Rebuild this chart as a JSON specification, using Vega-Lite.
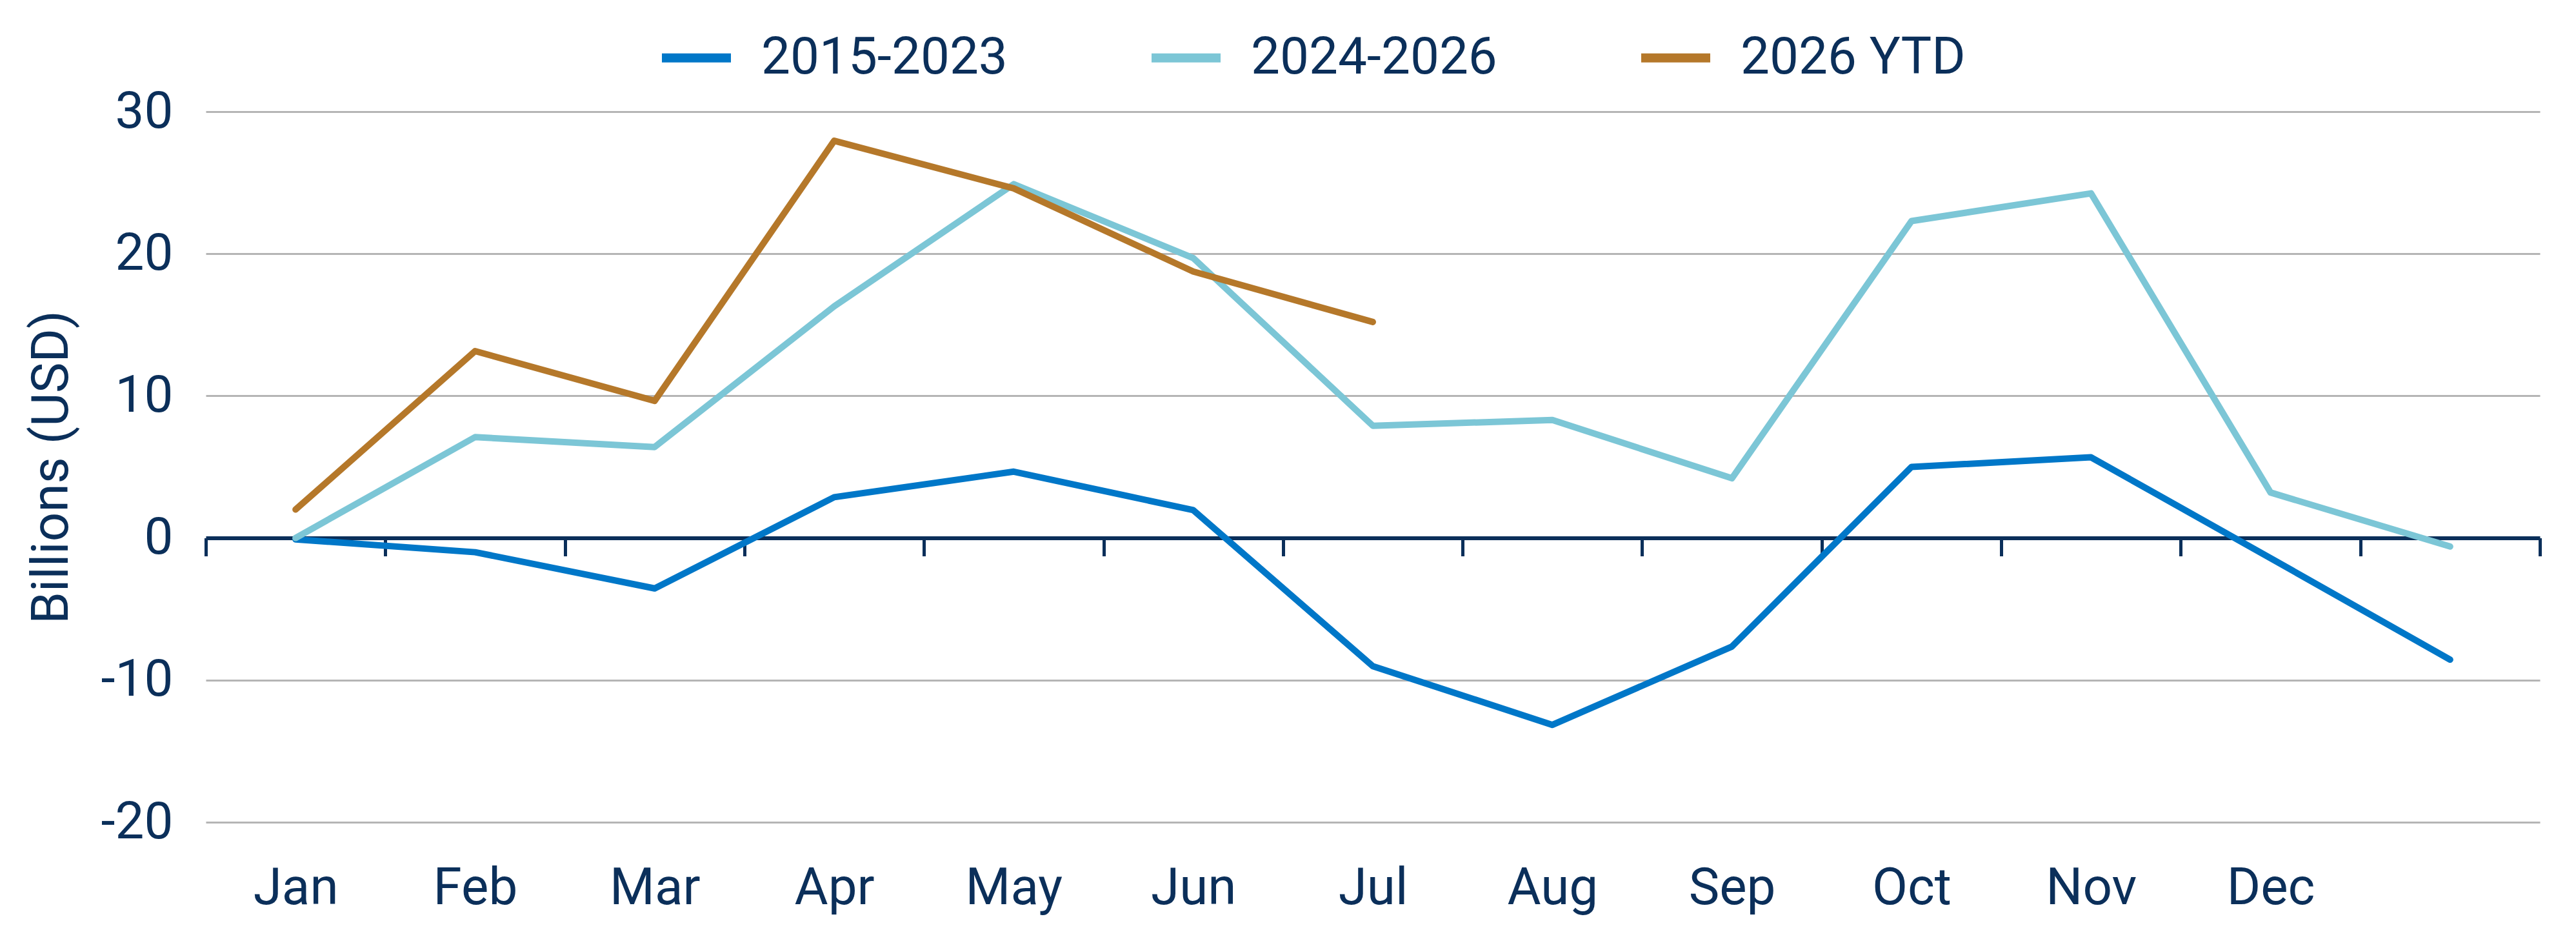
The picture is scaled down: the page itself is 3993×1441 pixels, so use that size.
{
  "$schema": "https://vega.github.io/schema/vega-lite/v6.json",
  "width": 3618,
  "height": 1101,
  "autosize": {"type": "none"},
  "padding": {"left": 319, "top": 173, "right": 56, "bottom": 167},
  "background": "white",
  "config": {"font": "Roboto", "view": {"stroke": null}},
  "data": {
    "values": [
      {"month": "Jan", "series": "2015-2023", "value": -0.1},
      {"month": "Feb", "series": "2015-2023", "value": -1.0},
      {"month": "Mar", "series": "2015-2023", "value": -3.55},
      {"month": "Apr", "series": "2015-2023", "value": 2.87},
      {"month": "May", "series": "2015-2023", "value": 4.67},
      {"month": "Jun", "series": "2015-2023", "value": 1.96},
      {"month": "Jul", "series": "2015-2023", "value": -9.02},
      {"month": "Aug", "series": "2015-2023", "value": -13.15},
      {"month": "Sep", "series": "2015-2023", "value": -7.64},
      {"month": "Oct", "series": "2015-2023", "value": 5.0},
      {"month": "Nov", "series": "2015-2023", "value": 5.68},
      {"month": "Dec", "series": "2015-2023", "value": -1.42},
      {"month": "End", "series": "2015-2023", "value": -8.56},
      {"month": "Jan", "series": "2024-2026", "value": 0.0},
      {"month": "Feb", "series": "2024-2026", "value": 7.1},
      {"month": "Mar", "series": "2024-2026", "value": 6.4},
      {"month": "Apr", "series": "2024-2026", "value": 16.3},
      {"month": "May", "series": "2024-2026", "value": 24.9},
      {"month": "Jun", "series": "2024-2026", "value": 19.7},
      {"month": "Jul", "series": "2024-2026", "value": 7.9},
      {"month": "Aug", "series": "2024-2026", "value": 8.3},
      {"month": "Sep", "series": "2024-2026", "value": 4.2},
      {"month": "Oct", "series": "2024-2026", "value": 22.3},
      {"month": "Nov", "series": "2024-2026", "value": 24.25},
      {"month": "Dec", "series": "2024-2026", "value": 3.2},
      {"month": "End", "series": "2024-2026", "value": -0.6},
      {"month": "Jan", "series": "2026 YTD", "value": 2.0},
      {"month": "Feb", "series": "2026 YTD", "value": 13.15},
      {"month": "Mar", "series": "2026 YTD", "value": 9.65},
      {"month": "Apr", "series": "2026 YTD", "value": 27.95},
      {"month": "May", "series": "2026 YTD", "value": 24.6},
      {"month": "Jun", "series": "2026 YTD", "value": 18.75},
      {"month": "Jul", "series": "2026 YTD", "value": 15.2}
    ]
  },
  "mark": {"type": "line", "strokeWidth": 10, "strokeCap": "round", "strokeJoin": "round"},
  "encoding": {
    "x": {
      "field": "month",
      "type": "ordinal",
      "sort": ["Jan", "Feb", "Mar", "Apr", "May", "Jun", "Jul", "Aug", "Sep", "Oct", "Nov", "Dec", "End"],
      "scale": {"type": "band", "paddingInner": 0, "paddingOuter": 0},
      "axis": {
        "title": null,
        "offset": -440.5,
        "domainColor": "#0b2f5a",
        "domainWidth": 6,
        "tickColor": "#0b2f5a",
        "tickWidth": 5,
        "tickSize": 28,
        "tickBand": "extent",
        "labelPadding": 476,
        "labelFontSize": 80,
        "labelColor": "#0b2f5a",
        "labelAngle": 0,
        "labelExpr": "datum.value == 'End' ? '' : datum.value",
        "grid": false
      }
    },
    "y": {
      "field": "value",
      "type": "quantitative",
      "scale": {"domain": [-20, 30], "nice": false, "zero": false},
      "axis": {
        "values": [-20, -10, 0, 10, 20, 30],
        "title": "Billions (USD)",
        "domain": false,
        "ticks": false,
        "grid": true,
        "gridColor": {"condition": {"test": "datum.value === 0", "value": "transparent"}, "value": "#b5b5b5"},
        "gridWidth": 3,
        "labelFontSize": 80,
        "labelColor": "#0b2f5a",
        "labelPadding": 51,
        "labelExpr": "replace(datum.label, '\u2212', '-')",
        "titleFontSize": 80,
        "titleFontWeight": "normal",
        "titleColor": "#0b2f5a",
        "titlePadding": 34
      }
    },
    "color": {
      "field": "series",
      "type": "nominal",
      "scale": {"domain": ["2015-2023", "2024-2026", "2026 YTD"], "range": ["#0077c8", "#7cc6d6", "#b5782a"]},
      "legend": {
        "title": null,
        "orient": "none",
        "direction": "horizontal",
        "legendX": 700,
        "legendY": -144,
        "symbolType": "stroke",
        "symbolSize": 11449,
        "symbolStrokeWidth": 14,
        "labelFontSize": 80,
        "labelColor": "#0b2f5a",
        "labelOffset": 40,
        "columnPadding": 195,
        "padding": 0,
        "labelLimit": 0
      }
    }
  }
}
